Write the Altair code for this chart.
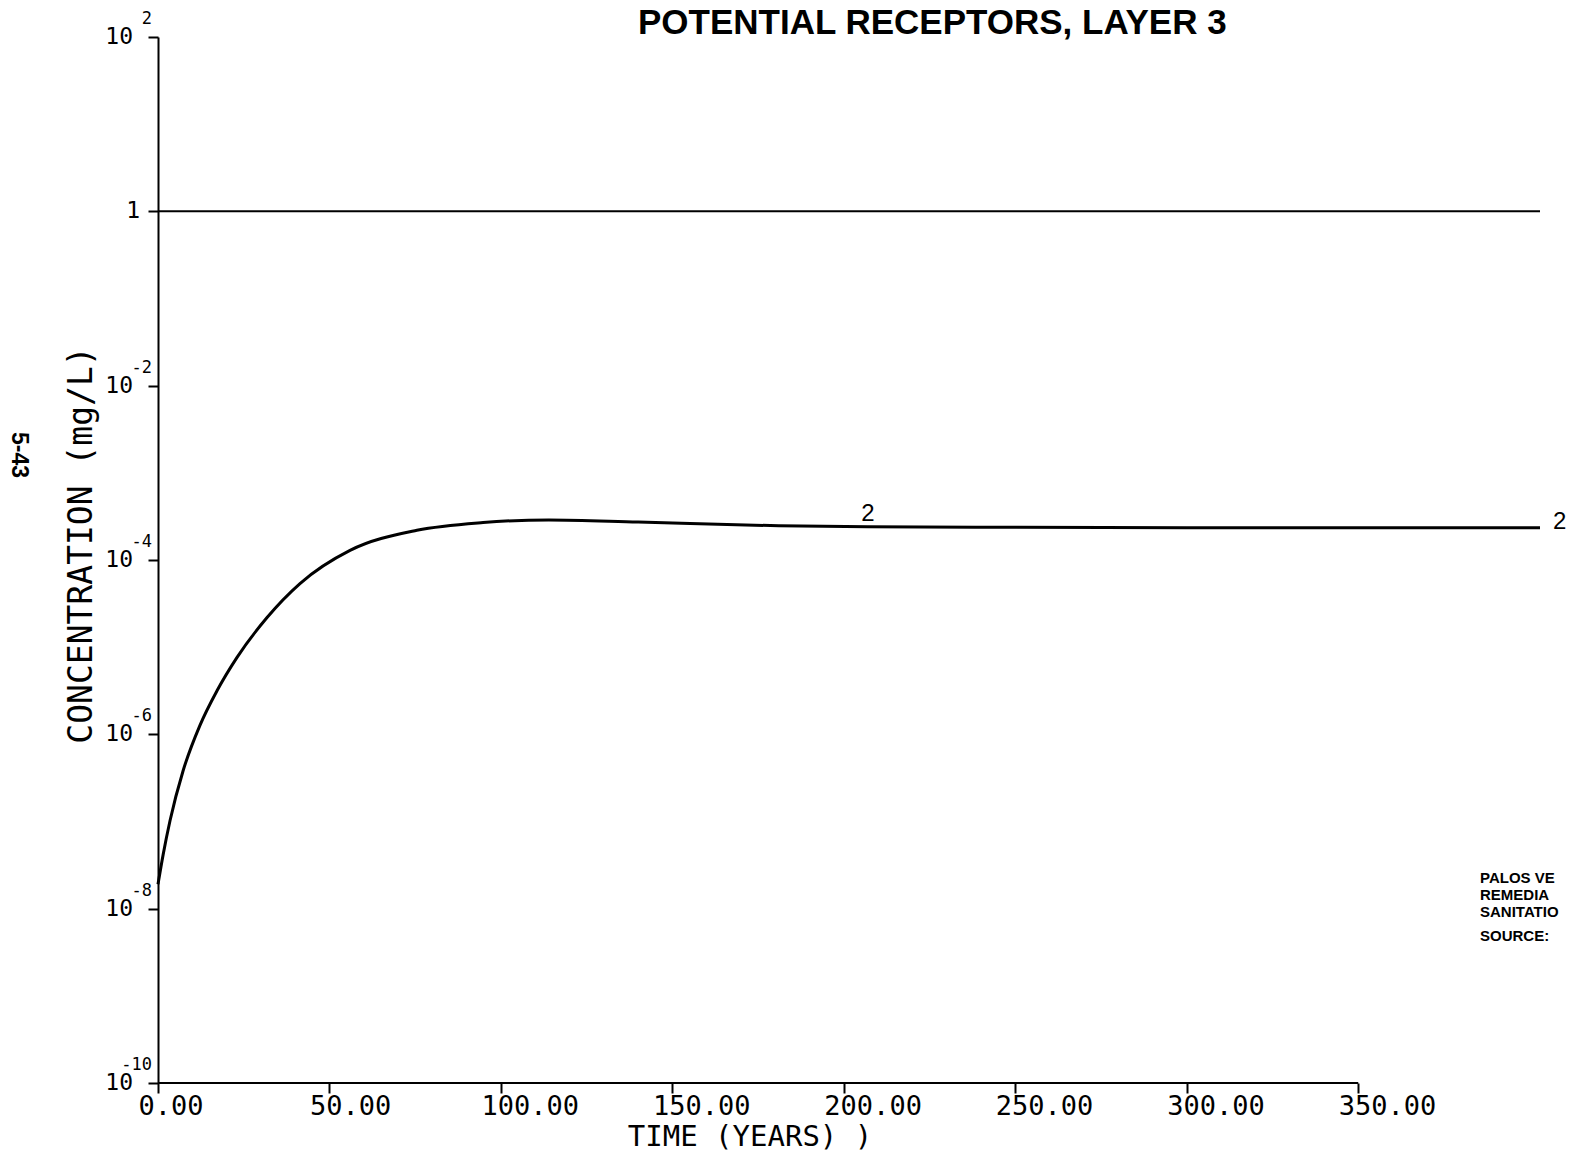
import altair as alt
import pandas as pd

# ---- data ----
years = [0, 1.5, 3.5, 7.3, 12.2, 17.2, 23, 31.8, 41.4, 56, 75.5, 94.8, 114, 140, 181, 207, 250, 300, 350, 403]
conc = [1.91e-8, 4.17e-8, 1.02e-7, 3.8e-7, 1.26e-6, 3.16e-6, 7.59e-6, 2.19e-5, 5.37e-5, 1.29e-4,
        2.19e-4, 2.69e-4, 2.88e-4, 2.72e-4, 2.47e-4, 2.40e-4, 2.37e-4, 2.35e-4, 2.34e-4, 2.34e-4]
ref_years = [0, 403]
ref_conc = [1, 1]
x_ticks = [0, 50, 100, 150, 200, 250, 300, 350]
y_exps = [2, 0, -2, -4, -6, -8, -10]
label_years = [207]
label_conc = [2.40e-4]
end_years = [403]
end_conc = [2.34e-4]
note_lines = ["PALOS VE", "REMEDIA", "SANITATIO", "SOURCE:"]
note_rows = [878, 895, 912, 936]

MONO = "DejaVu Sans Mono"
SANS = "Liberation Sans"
TOP = 37

curve_df = pd.DataFrame({"t": years, "c": conc})
ref_df = pd.DataFrame({"t": ref_years, "c": ref_conc})
ticks_df = pd.DataFrame({"e": y_exps, "c": [10.0 ** e for e in y_exps], "sup": [str(e) for e in y_exps]})
pow_df = ticks_df[ticks_df["e"] != 0]
one_df = ticks_df[ticks_df["e"] == 0]
axis_df = pd.DataFrame({"t": [x_ticks[0]], "t2": [x_ticks[-1]], "c": [1e-10]})
lab_df = pd.DataFrame({"t": label_years, "c": label_conc, "s": ["2"]})
end_df = pd.DataFrame({"t": end_years, "c": end_conc, "s": ["2"]})

xscale = alt.Scale(domain=[0, 403], nice=False, zero=False)
yscale = alt.Scale(type="log", domain=[1e-10, 1e2], nice=False)

x_axis = alt.Axis(values=x_ticks, format=".2f", domain=False, grid=False, title=None,
                  ticks=True, tickSize=10, tickWidth=2, tickColor="black",
                  labelFont=MONO, labelFontSize=27, labelColor="black",
                  labelAlign="left", labelOffset=-20, labelPadding=0,
                  labelFlush=False, labelOverlap=False, labelBound=False)
y_axis = alt.Axis(values=[10.0 ** e for e in y_exps], labels=False, grid=False, title=None,
                  domain=True, domainColor="black", domainWidth=2,
                  ticks=True, tickSize=10, tickWidth=2, tickColor="black")


def X(field="t:Q"):
    return alt.X(field, scale=xscale, axis=x_axis, title=None)


def Y(field="c:Q"):
    return alt.Y(field, scale=yscale, axis=y_axis, title=None)


curve = alt.Chart(curve_df).mark_line(color="black", strokeWidth=3, interpolate="monotone").encode(
    x=X(), y=Y())

ref_line = alt.Chart(ref_df).mark_line(color="black", strokeWidth=2).encode(x=X(), y=Y())

x_axis_line = alt.Chart(axis_df).mark_rule(color="black", strokeWidth=2).encode(
    x=X(), x2="t2:Q", y=Y())

base_lab = alt.Chart(pow_df).mark_text(font=MONO, fontSize=23, align="right", baseline="middle",
                                       color="black").encode(
    x=alt.value(-25), y=Y(), text=alt.value("10"))

sup_lab = alt.Chart(pow_df).mark_text(font=MONO, fontSize=17, align="right", baseline="middle",
                                      color="black", dy=-18).encode(
    x=alt.value(-6), y=Y(), text="sup:N")

one_lab = alt.Chart(one_df).mark_text(font=MONO, fontSize=23, align="right", baseline="middle",
                                      color="black").encode(
    x=alt.value(-18), y=Y(), text=alt.value("1"))

mid_lab = alt.Chart(lab_df).mark_text(font=SANS, fontSize=24, align="center", baseline="bottom",
                                      color="black", dy=-1).encode(
    x=X(), y=Y(), text="s:N")

end_lab = alt.Chart(end_df).mark_text(font=SANS, fontSize=24, align="left", baseline="middle",
                                      color="black", dx=13, dy=-6).encode(
    x=X(), y=Y(), text="s:N")

title_txt = alt.Chart(pd.DataFrame({"s": ["POTENTIAL RECEPTORS, LAYER 3"]})).mark_text(
    font=SANS, fontSize=35, fontWeight="bold", align="left", baseline="alphabetic", color="black").encode(
    x=alt.value(480), y=alt.value(-3), text="s:N")

xtitle_txt = alt.Chart(pd.DataFrame({"s": ["TIME (YEARS) )"]})).mark_text(
    font=MONO, fontSize=29, align="center", baseline="middle", color="black").encode(
    x=alt.value(592), y=alt.value(1137 - TOP), text="s:N")

ytitle_txt = alt.Chart(pd.DataFrame({"s": ["CONCENTRATION (mg/L)"]})).mark_text(
    font=MONO, fontSize=33, align="center", baseline="middle", angle=270, color="black").encode(
    x=alt.value(-76), y=alt.value(508), text="s:N")

page_txt = alt.Chart(pd.DataFrame({"s": ["5-43"]})).mark_text(
    font=SANS, fontSize=23, fontWeight="bold", align="center", baseline="middle", angle=90,
    color="black").encode(
    x=alt.value(-139), y=alt.value(418), text="s:N")

note_layers = [
    alt.Chart(pd.DataFrame({"s": [line]})).mark_text(
        font=SANS, fontSize=15, fontWeight="bold", align="left", baseline="middle",
        color="black").encode(x=alt.value(1322), y=alt.value(row - TOP), text="s:N")
    for line, row in zip(note_lines, note_rows)
]

chart = alt.layer(
    ref_line, x_axis_line, curve, base_lab, sup_lab, one_lab, mid_lab, end_lab,
    title_txt, xtitle_txt, ytitle_txt, page_txt, *note_layers,
).properties(
    width=1382, height=1046,
    padding={"left": 158, "top": TOP, "right": 29, "bottom": 72},
    autosize=alt.AutoSizeParams(type="none"),
    background="white",
).configure_view(stroke=None)

chart.save("out.html", embed_options={"renderer": "svg", "actions": False})
